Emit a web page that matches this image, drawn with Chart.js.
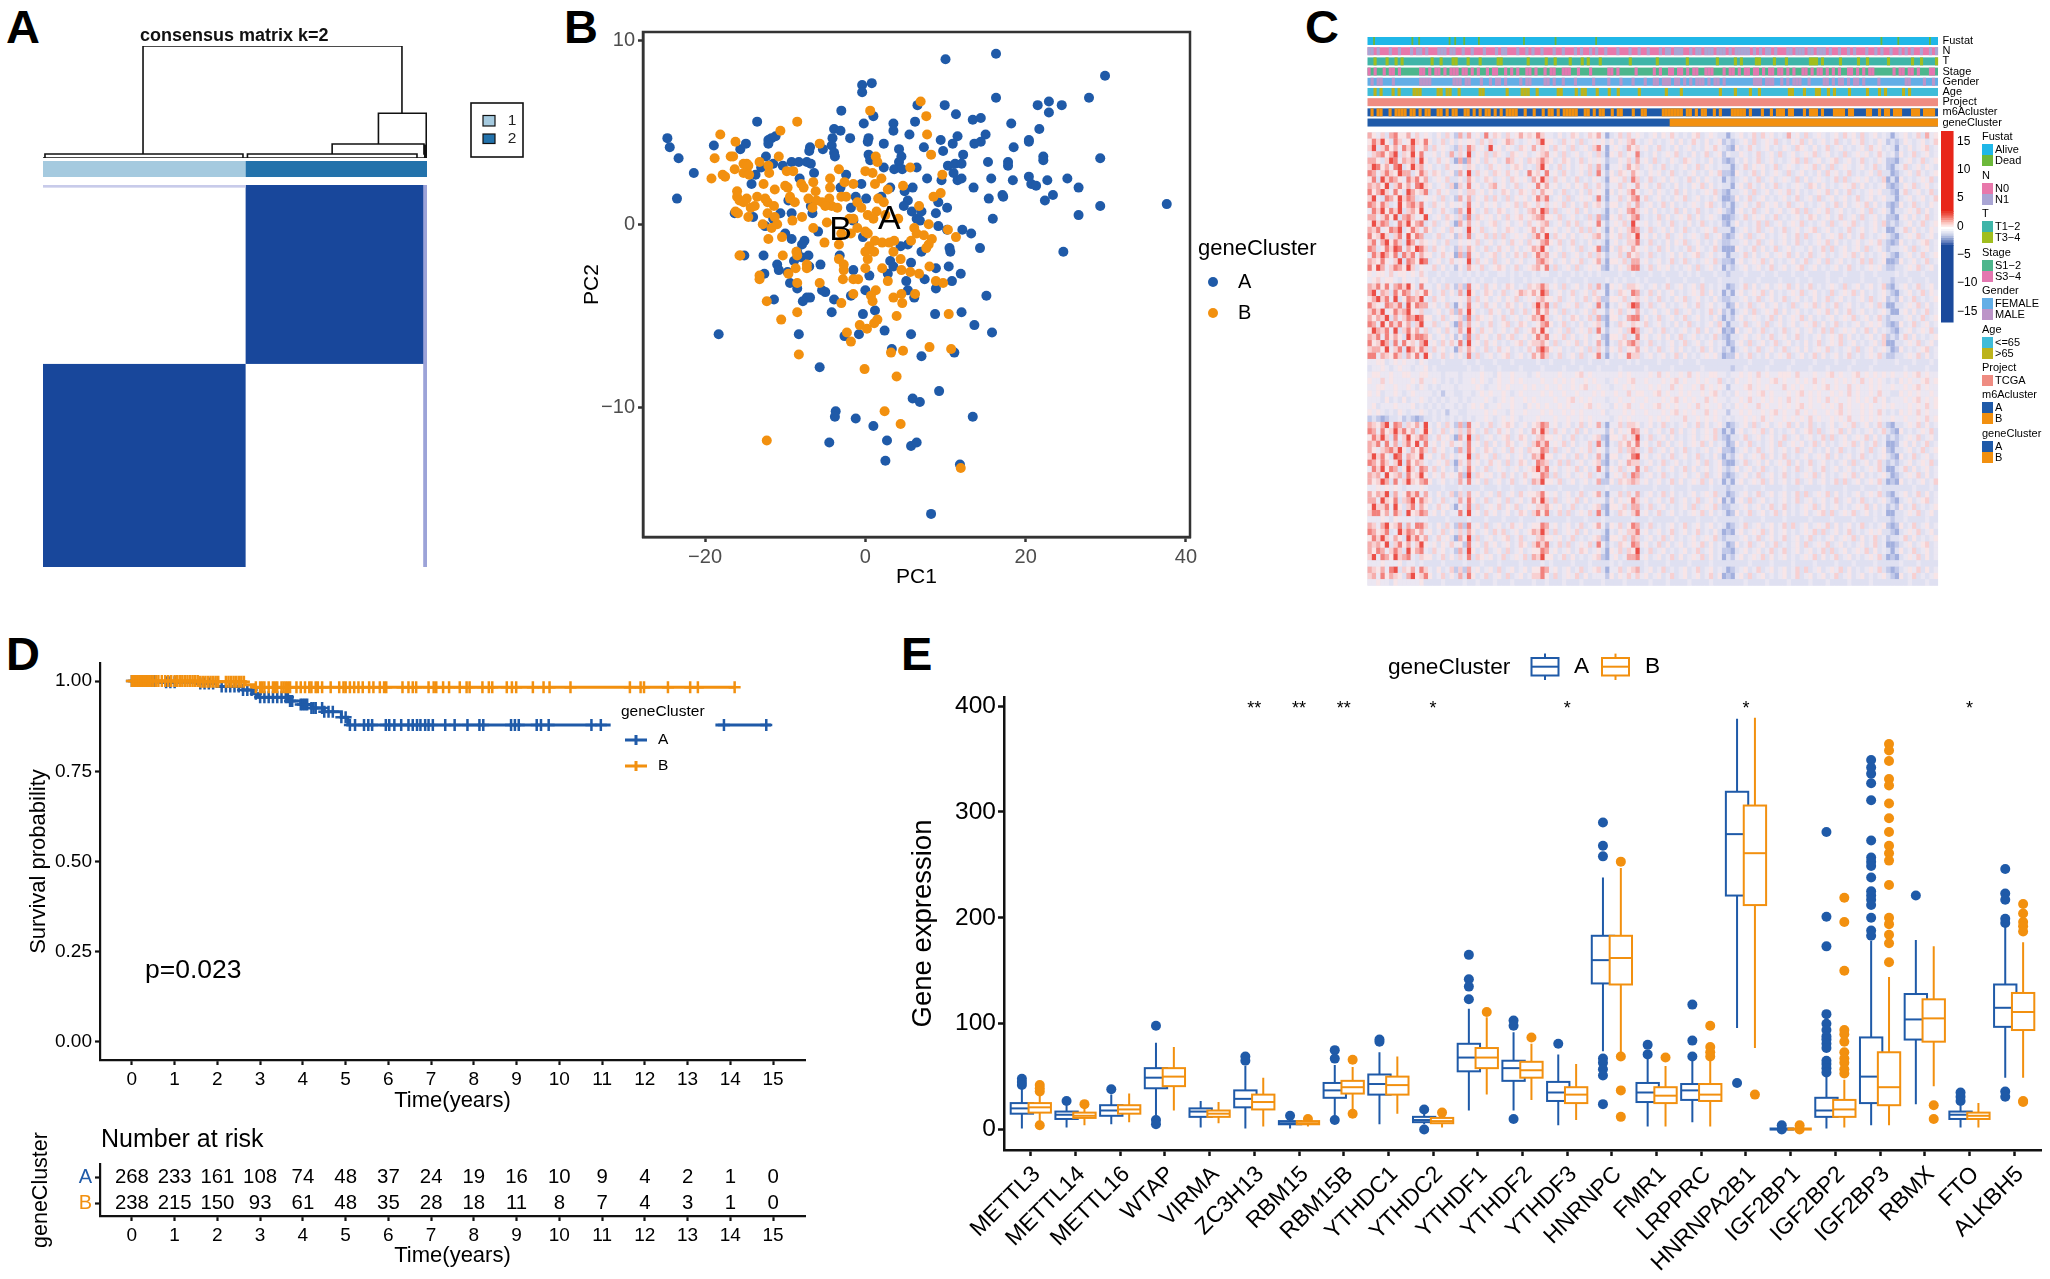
<!DOCTYPE html>
<html>
<head>
<meta charset="utf-8">
<title>geneCluster figure</title>
<script src="https://cdn.jsdelivr.net/npm/chart.js@4"></script>
<style>
  html, body { margin: 0; padding: 0; background: #fff; }
  body { position: relative; width: 2050px; height: 1279px; overflow: hidden; }
  canvas { position: absolute; }
  .tag { position: absolute; font: bold 47px "Liberation Sans", Arial, sans-serif; line-height: 47px; color: #000; }
</style>
</head>
<body>
<div class="tag" style="left:6px;top:3px">A</div>
<div class="tag" style="left:564px;top:3px">B</div>
<div class="tag" style="left:1305px;top:3px">C</div>
<div class="tag" style="left:6px;top:630px">D</div>
<div class="tag" style="left:901px;top:630px">E</div>
<script>
const BLUE = '#1f5aa8';
const ORANGE = '#f2900f';
const FONT = '"Liberation Sans", Arial, sans-serif';

// A: consensus matrix
const consensusSamples = 506;
const clusterSplitX = 267;
const clusterSplitY = 237;
const dendroLines = [
    [[131.8, 0.036], [131.8, 1], [473, 1], [473, 0.40]],
    [[442, 0.125], [442, 0.40], [505, 0.40], [505, 0.02]],
    [[381, 0.036], [381, 0.125], [502, 0.125], [502, 0.03]],
    [[2.6, 0], [2.6, 0.036], [263.5, 0.036], [263.5, 0]],
    [[269.4, 0], [269.4, 0.036], [492.8, 0.036], [492.8, 0]],
    [[0, 0], [506, 0]]
];

// B: PCA scores [PC1, PC2]
const scoresA = [[-24.7,4.7],[-24.4,4.2],[-23.3,3.6],[-21.4,2.8],[-23.5,1.4],[-18.3,-6],[-18.9,4.3],[-15.6,4.1],[-14.9,4.4],[-13.5,5.6],[-12.1,4.6],[-11.7,4.7],[-11.2,4.8],[-12.1,4.4],[-12.4,3.7],[-13,3.1],[-13.7,2.7],[-14.2,2.2],[-11.5,3.3],[-10.3,3.2],[-9.2,3.4],[-8.3,3.4],[-7.3,3.4],[-6.8,3.3],[-6.4,2.8],[-8.2,2.5],[-6.9,4.2],[-7,4],[-5.3,4.1],[-4.1,4.7],[-3.9,5.2],[-3.1,5.1],[-1.9,4.7],[-3,6.2],[-4.2,4.3],[-3.9,3.9],[-3.8,3.7],[-0.2,5.5],[-0.4,7.6],[0.8,7.7],[-0.4,7.2],[1,5.9],[3.5,5.5],[3.5,5.1],[0.4,4.7],[0.3,4.5],[2.3,4.4],[4.2,4.1],[0.4,3.8],[0.6,3.5],[4.5,3.7],[4.2,3.4],[2.3,3.1],[3.6,3],[4.6,3],[6.4,3.1],[5.5,4.9],[6.2,5.6],[6.5,6.5],[9.9,6.5],[10,9],[16.3,9.3],[16.3,6.9],[11.3,6],[13.4,5.7],[14.4,5.8],[15,4.9],[14.4,4.5],[13.6,4.4],[11.5,4.8],[10.9,4.4],[9.4,4.6],[9.7,4],[7.3,4.2],[7.7,2.5],[9.5,2.4],[10.3,3.2],[11.2,3.3],[12,3.3],[12.2,3.8],[11,2.8],[11.5,2.4],[12,2.5],[13.5,2],[15.3,3.4],[15.7,2.5],[15.4,1.4],[17.1,1.6],[17.2,1.5],[15.9,0.3],[18.5,4.2],[18.2,5.5],[17.8,3.4],[17.8,3.2],[18.4,2.4],[20.4,4.5],[20.4,4.6],[21.5,6.5],[22.9,6.7],[24.5,6.5],[22.9,6.1],[21.7,5.2],[22.2,3.7],[22.2,3.5],[20.4,2.6],[20.7,2.2],[21.3,2.1],[22.7,2.4],[22.4,1.3],[23.4,1.6],[25.2,2.5],[26.6,2],[26.6,0.5],[29.3,1],[29.3,3.6],[27.9,6.9],[29.9,8.1],[37.6,1.1],[24.7,-1.5],[-3.1,2],[-2.4,2.7],[-0.5,2.2],[-1.2,1.5],[0.1,1.4],[-1.8,0.9],[-6.8,1],[-6.6,0.6],[-9.2,0.6],[-10.6,0.6],[-9.6,1.3],[-14,0.4],[-12.5,-0.1],[-11.5,0.3],[-10,-0.5],[-9.2,-0.8],[-7.6,-0.9],[-7.9,-1.1],[-12.7,-1.7],[-15.1,-1.7],[-16.3,0.6],[-11,-2.2],[-10.8,-2.5],[-12.6,-2.7],[-9.7,-2.6],[-9.4,-3.2],[-8.5,-3.5],[-8.9,-2],[-8,-1.8],[-7.1,-1.7],[-8.5,-1.5],[-7,-2.3],[-5.6,-2.2],[-5.9,-0.4],[-1.5,0.2],[-0.3,-0.7],[3.1,2],[2,1.5],[4.9,1.8],[5.9,2],[5.3,1.3],[4.8,1],[5.8,0.7],[6.4,0.3],[6.8,0.2],[7,0.7],[8.8,0.6],[9.1,1.2],[10.2,0.9],[9.1,-0.1],[10.2,-0.3],[12.1,-0.3],[13.2,-0.5],[14.3,-1.3],[10.5,-1.3],[10.6,-1.5],[10.4,-2.3],[11.9,-2.7],[10.8,-3.1],[8.8,-2.4],[8.8,-3.5],[7.4,-3],[7,-1.5],[5.3,-1.1],[4.4,-1.2],[3.1,-2],[3.5,-2.3],[2.8,-2.7],[5.7,-2.1],[0.5,-2.8],[-1.5,-2.5],[-3.2,-1.7],[5.1,-3.1],[5.3,-3.6],[6.1,-4],[0,-3.6],[-1.8,-3.9],[-3.9,-4.1],[-5,-3.7],[-5.4,-3.6],[-6.9,-4],[-7.3,-4],[-7.8,-4.2],[-11.4,-4.1],[-4.2,-4.8],[-0.3,-4.9],[1.2,-4.7],[2.4,-5.8],[5.7,-6],[8.7,-4.9],[12,-4.8],[13.6,-5.5],[15.8,-5.9],[15.1,-3.9],[-0.8,-6],[-2.6,-6.1],[-8.3,-6],[-5.7,-7.8],[3.3,-6.8],[7,-7.2],[11.1,-7],[9.2,-9.1],[5.9,-9.5],[6.8,-9.7],[13.4,-10.5],[-1.2,-10.6],[-3.7,-10.2],[-3.8,-10.5],[1,-11],[-4.5,-11.9],[2.7,-11.8],[5.7,-12.1],[6.4,-11.9],[2.5,-12.9],[11.8,-13.1],[8.2,-15.8]];
const scoresB = [[-19.2,2.5],[-18.1,4.9],[-18.8,3.6],[-16.2,4.5],[-16.8,3.7],[-16.5,3.7],[-17.8,2.7],[-17.5,2.6],[-16.3,3],[-15.2,3.3],[-14.8,3.3],[-14.6,3.2],[-15.2,2.8],[-14.5,2.7],[-16,1.8],[-16,1.5],[-15.7,1.3],[-14.8,1.4],[-15.2,1.2],[-14.3,0.9],[-16.2,0.7],[-15.9,0.6],[-14.6,0.4],[-13.2,3.4],[-12.1,3.2],[-10.8,3.7],[-10.6,5.1],[-8.5,5.6],[-12.7,2.2],[-11.3,1.9],[-10,2.1],[-9.7,2],[-9,2.9],[-9.8,2.9],[-8,2.2],[-7.7,2],[-12.5,1.4],[-12.2,1.2],[-11.4,1],[-9.4,1.5],[-9.4,1.4],[-12.2,0.6],[-11.3,0.4],[-9.1,0.2],[-7.9,0.4],[-12.8,0],[-11.7,-0.2],[-11,0],[-10.4,-0.7],[-12.1,-0.8],[-15.6,-1.7],[-15.7,-1.7],[-10.3,-1.7],[-8.6,-1.5],[-8.5,-1.7],[-8.5,-3.2],[-8.7,-2.4],[-7.3,-2.2],[-7.3,-2.4],[-13.2,-2.8],[-13.2,-3],[-9.6,-2.7],[-12.3,-4.2],[-5.7,-3.2],[-10.5,-5.2],[-8.5,-4.8],[-8.3,-7.1],[-12.3,-11.8],[-5.7,4.4],[-3.3,3],[-4.4,2.5],[-4.4,2],[-6.5,2.3],[-6.2,1.8],[-7.1,1.4],[-6.1,1.3],[-5.4,1.2],[-4.2,1],[-4.5,1.4],[-3,1.5],[-2.4,1.5],[-1.5,2.2],[-2.6,2.3],[0,2.9],[0.9,2.8],[1.2,2.2],[2,2.5],[1.3,3.7],[1.5,3.4],[0.6,6.2],[6.9,6.7],[7.6,5.9],[7.7,4.9],[8.2,3.8],[5.6,3.1],[9.6,2.7],[9.4,1.7],[8.5,1.5],[4.7,2.1],[2.8,1.9],[1.6,1.4],[2.3,1.2],[1.4,0.7],[4.1,0.3],[0.3,0.5],[-0.5,0.9],[-1.5,0.3],[-4.8,0.1],[-6.5,-0.2],[-5.1,-1],[-3.3,-1.1],[-1.8,-0.5],[0,-0.4],[0.3,-0.5],[1.2,-0.9],[2.1,-1],[3,-1],[3.6,-0.9],[1.1,-1.5],[0,-1.5],[0.3,-1.9],[-3.3,-1.9],[-2.7,-2.2],[-2.7,-2.5],[-1.5,-3],[-0.9,-3],[-2.8,-3],[0,-2.4],[2.1,-2.4],[2.8,-3.1],[3.5,-1.5],[4.4,-1.9],[4.5,-2.5],[5.6,-2.6],[6.7,-2.7],[8,-2.3],[8.8,-3.1],[9.7,-3.2],[3.5,-4],[4.5,-3.8],[4.6,-4.3],[6.2,-3.8],[1.3,-3.6],[0.7,-3.9],[0.9,-4.2],[-3,-4.3],[-1.5,-3.8],[3.9,-5],[10.4,-4.9],[1.1,-5.4],[1.5,-5.2],[-0.7,-5.5],[0.2,-5.7],[-2.3,-5.9],[-1.8,-6.4],[8,-6.7],[10.7,-6.8],[3.2,-7],[4.7,-6.9],[-0.1,-7.9],[3.9,-8.3],[2.4,-10.2],[4.4,-10.9],[11.9,-13.3],[11.3,-0.7],[10.3,-0.3],[7.9,0],[6.1,-0.2],[6.4,-0.5],[7.3,-0.6],[8.3,-0.8],[7.9,-1.1],[7.6,-1.3],[5.7,-0.9],[6.7,1],[-5,1],[-3.5,0.9],[-2,0.3],[-1,-0.2],[1,0.3],[2.5,0.5],[-1,1.2],[-3,-0.5],[0.5,-1.2],[-13.5,1.5],[-13.8,1],[-12,2.8],[-8.8,1.2],[-6.6,0.9]];

// C: annotation tracks, 0/1 per stretch of samples, left to right
const trackNames = ['Fustat', 'N', 'T', 'Stage', 'Gender', 'Age', 'Project', 'm6Acluster', 'geneCluster'];
const heatSamples = 506;
const fustatDead = [5, 39, 45, 72, 77, 85, 98, 138, 166, 202, 455, 470, 498];
const geneClusterSizes = [268, 238];
const trackN = '1101000100100010110100011101100100100010001011000100101001000100100010100101001000100010010010' + '0010110111001011011101110101111101010110100011011101101110100100101000100101001001010100100101';
const trackT = '00100010010100000000010010001100010001000001100000000100000100100001000101000100000000010000000' + '01000000000100000000010000010100001100001000100000001110100000100000100100000010000000100100001';
const trackStage = '1010010110100000011010110101110110101001011001010100110100101100111001000100000110100000100000' + '1010011011010110011100010110101101101011011010100110101101010100110101011000000101101101000110';
const trackGender = '0101100010000000011110000000111011000100101101000010110000110100100010000010000100010001000100' + '1101110110101011101011010000000001110111001010111001000011010110101101000010000000011000010010';
const trackAge = '00101000101000011100000110110010000001100000001000011100100000011000010110001000100100000010000' + '00001000010000000000001000010000100100000000011000100011001010000100000100010100000101000000000';
const trackM6A = '01011001011110110101100110101100110101011010101111001001001011010111110011010110010110001001100' + '00011111110110101100101000111110100010010111011000101110100011110110000110010110111000111011110';
const projectTrack = '0';

// C: heat levels, 0 = bluest, 9 = reddest
const heatLevels = [
'75463785574645 435364 2737 45384653645756 5864 43534653465 7413 463645 4345354643435634543 313 45346364534374536345434536453634534 313 453463745',
'58695386459658 534635 3545 53646345764345 4695 54364536345 4535 354674 3453434535346435345 232 34536345463435463534534634354634354 232 354345346',
'69368574868457 364543 2638 64539453543654 7465 36453634536 8414 543756 4534634353453435464 321 53464345343543654353463453434536453 431 435345634',
'46785793659584 453537 3649 35463654365453 4567 45363453453 6315 463548 3435345463435346345 243 35434634536345345463453436345453464 342 534634534',
'77536984767395 346453 1717 45364534764536 5686 53465346354 5423 354637 4536343543654343534 212 43534634534345636345345634534634354 221 345346345',
'69857489359674 534364 4536 53436454356534 3695 34635345463 7314 453756 3453463434534635434 331 34635453463454345463536345434534634 213 463453543',
'87468659773586 465345 2749 36453654645348 5648 45364345363 8425 365475 4354534634345343546 221 54346353454363453435364534634345363 312 345364345',
'58396875486857 345463 3537 53465345365453 7596 36453463435 4315 546386 3463453543463535434 132 34534634534543635345434636345453436 131 534345463',
'76759368574896 534536 1648 45346745346345 4857 45345354634 6424 463547 4534634353435463534 331 45364353463434543653534345463534345 212 354634534',
'85796485397568 346453 3536 64535346534654 6475 53463435364 5415 354685 3453543463534345463 213 34536345345463534345463534634345453 321 463453463',
'69438759687345 453634 2747 35463643635453 5868 34536345453 8314 463578 4634534354634534353 112 53463453434534634536345345346345345 331 345345346',
'87586349578684 364535 4538 45354534546365 4646 45463534635 6425 534647 3453463534345435634 231 34534635453463453434534635345463534 212 534634354',
'48695869367594 534643 2749 53463465345346 7597 36345463534 4314 354786 4535343463534634345 321 45346345345345636345463453434536345 313 345463534',
'77468593786459 345365 3628 36545353645645 6785 54634534363 7215 463578 3434635345463534543 112 34635453463434534653453463453634534 221 453534634',
'59687348695783 463453 1747 45345634534536 4567 34536463454 8424 546395 4534534634353463434 213 53434636345345463434536345463434536 232 345346345',
'76845879358647 534536 4539 54634534654345 7475 45345346363 5315 354687 3463453534634345463 331 34534634534634534563453434634534534 113 463534354',
'85696368495873 346345 2638 35463636345453 6859 36453534546 7425 463659 4535346345345436345 212 45363453434534636345345463534634345 321 345463453',
'68479586397465 453463 3545 46345345364536 4578 54634634353 4314 534668 3463435354634534353 223 34534634534534634345463534345345463 212 534345634',
'87358698475986 364534 2637 53463464535345 7695 34534536345 8215 365475 4534635343463543463 111 54346353463453443534636345345363453 233 453634534',
'48697583868475 534645 1728 45345635346463 5867 45363453463 6424 463756 3463434535345634534 313 34635345345463534634534345463534345 321 345346345',
'76585469387598 345346 4549 36453634534534 4786 53453546345 7315 546377 4534534634634345463 221 45345463534345346345363453434636345 112 534534634',
'85974687596354 463534 2537 54634565346345 6758 36345363454 5214 354688 3463545343453634534 132 34534534634534563453434534634345453 223 345463453',
'54554645545464 334343 3434 34343344343433 4344 33433434343 4333 343343 3343343334343433343 323 33433343343334334333343334333433433 334 343334333',
'45645543544355 343433 3343 43433433343343 4433 34334333433 3343 434334 3433334333433343334 333 34333433334333433433343343333433343 323 334333433',
'76858478695384 435364 2628 45364534653436 5686 45363453463 7315 453665 4345346345345363434 312 34635345345463534634345436345345346 213 453463453',
'79476385874658 534635 3739 53465346345765 7597 34534634536 4414 365487 3463534534345463534 131 45345463534345463453436345463534345 321 345346354',
'57968493587694 364534 4547 36453453546345 4675 54634534635 6225 546356 4534634354634534353 223 34534634534634534353463453434536345 232 534634345',
'86548768395877 453463 1538 45364534653534 6968 36345463453 8314 354698 3463453434534634534 312 53463453453436345463534634534345363 113 345463534',
'68694586795463 345346 2749 53436453463463 5857 45363434536 4425 463547 4345345363453434635 231 34536345463534534345463534634534345 311 453534634',
'75769374687985 534635 4628 36545346345345 7696 34534653463 7215 534788 3534634534634534353 132 45345434635345463534345345463453463 233 345346345',
'87495868573694 463453 1737 45346345634653 4578 53463435345 6314 365465 4634534353463434536 313 34634536345345345463534634345345453 212 534634534',
'59768493685746 345364 3749 53645345346345 7595 34536345463 8424 453697 3453463434534635345 121 53453463434634534534636345453463534 321 345345463',
'76848575396887 534535 2528 36453463563453 5868 45463534534 5215 546348 4534535346345343463 213 34534534634534634345345463534345346 232 463534345',
'85697384856479 453646 4839 45364534345635 6675 36345463534 7314 365786 3463434534634534534 312 45363453463453435346345463453434536 113 345463453',
'67759468397586 364534 1647 53463464534346 4797 54534345363 6425 463557 4534634535343463534 231 34534634534634535345463434536345345 312 534345634',
'88476586375849 534635 3538 36345345634534 7586 34634536345 8314 354866 3453453463534345453 122 53463435345463453463534534634345463 223 345463534',
'44553454544354 333433 3343 34333433343333 3433 43333433343 3343 333434 3333433334333433333 333 33343333433334333343333433343333433 334 333433343',
'34454345443445 343333 3334 33433343333433 3343 33343334333 4333 343333 3433333433333343333 332 33433334333343333433343333433334333 333 343333433',
'45544544554455 444344 4344 44544354454443 4544 44544456454 4444 454544 4454645445464544554 434 45454645445554644454456454456454545 454 454564544',
'54464544445464 454343 4344 54543454454544 4454 45454544545 4434 544564 4544454564544545446 343 54454544564544545464544545454645454 343 545445645',
'44554454454354 343444 3444 45434454544454 5445 44544545644 5443 445454 4454544645445464545 424 44564545444645454454564544645445454 454 454564544',
'54534454345444 434244 3344 34545445434544 4454 54454454445 4544 544645 5445645445454454564 343 54454564544454564545445454645445464 433 545454454',
'44435343534454 343434 4343 44454345454454 5444 45445645454 4434 454454 4544454564545446454 434 45464454545464544545464544545454645 344 454564545',
'45344454445343 434344 3434 54534454454435 4545 44545444564 5443 545644 5445645454454645445 343 54544645445454564544545464544545445 454 445454645',
'54543435434454 343424 4334 44454544354454 4454 54454545444 4534 445454 4544454564545446454 424 45454454564544645454454564544545464 343 545464544',
'23212334232123 343434 3434 34454345454344 4544 45445445454 4443 454544 4454545444644545454 343 44545464544545454645445454644545454 454 454454645',
'76579487365749 435364 2728 45346345653453 5687 45345346354 7314 463665 3453463434534635345 312 34536345345463534634345345463453463 213 345463534',
'87485696857359 534635 3637 53463464534534 7596 36453463534 4425 354587 4534534635345345463 131 45345463534345345636345463534345346 321 534345463',
'58696384695687 346453 1749 36345345634653 4675 54534634345 6215 546469 3463453534345345463 213 34634534534634534534636345345463534 232 345463453',
'76848473685948 453546 4538 45363534653453 6868 45463534463 8314 365758 4534635345345463534 312 53463434536345453463534345463534634 112 453534634',
'75467869537586 364534 2738 53465345364536 5587 36345345463 5424 463676 3463453534634345345 221 34534634534534634534353463434536345 213 345346345',
'69685398476594 534635 3549 36453634534534 7695 53453463534 7315 534589 4534534634534634353 132 45345463534634345345463534534634345 321 534634534',
'87586469385764 345463 1647 45346453634653 4876 34636345345 6214 354766 3453463453434536345 211 34634535345463534634534345363453463 232 345345463',
'48695873596487 463534 2538 53463454345345 6968 45345463534 8425 463548 4634534534635345345 323 53453463434534634534634534534345463 113 463534534',
'76749567385695 354645 4729 36545346353464 5587 36345345463 4314 546387 3453463434534536345 212 34534634534634345463534345463534345 312 345463534',
'75697384696578 534534 3748 45363453463453 7695 54634534534 7225 365676 4534534635345463534 131 45345463534534634534534636345345463 121 534345346',
'44545454344454 333433 3433 33433343343334 3343 33433334333 3343 334333 3334333433343333433 323 33433343333433343333433334333433343 333 333433343',
'75769374586847 435346 2637 45345363453645 5685 45345346345 7314 463647 3453463534345345463 312 34534634534534636345463534345345463 213 453463534',
'77496583679586 534634 3748 53463453634534 7596 36345463534 4425 354586 4534534634534634535 131 45363453434534634534534634534634345 321 345345634',
'59668495368475 346453 1538 36345463546345 4667 54534634345 6215 546377 3463453434536345463 223 34534534634634345463534534345463534 232 534634345',
'68857486395687 453534 4849 45364534534653 6858 34636345463 8314 365468 4534634534345463534 312 53463453463534345345636345463453434 113 345463453',
'44454354444344 333343 3334 33343334333433 3433 33334333433 3433 333343 3343333343333433343 333 34333343333433333433334333343333433 323 343333433',
'76479568374886 435364 2728 45363453464534 5587 45345346345 7425 463587 3463434534634534534 312 34634534534636345345463534534634345 212 534634534',
'87568349687574 534635 3637 53453646345345 7696 36345463534 4314 354668 4534534634534634353 121 45345463534534345463634534634345453 321 345463453',
'58696475396857 346453 1749 36345345634634 4675 54534634345 6215 546376 3453463534345345463 233 34534634534634534634345345463534634 233 463534345',
'76759368574695 453546 4528 45364534534653 6868 34636345463 8424 365487 4534635345345463534 312 53463453463434536345463453434534634 112 345345634',
'75874686395784 364534 2739 53463453634534 5587 45345346534 5315 463659 3463453434534634534 221 34534534634634534534636345345463534 313 534634534',
'69487596784365 534635 3648 36545346345463 7695 53463534345 6214 534778 4534534635345463534 132 45345463534534345463534634534345463 121 345463534',
'44454445344343 333433 3343 33433343333433 3343 43333433343 3334 343333 3433334333343333433 333 33343333433334333343333433343333433 333 433343333',
'76574893657486 435346 2627 45345363453453 5587 45345346345 6314 463567 3453463434534634534 312 34534634534534636345345463534345463 212 345463534',
'67485765379568 534635 3738 53463453634534 6685 36345463534 4425 354646 4534534634534534635 121 45363453434534634534534634534534345 321 534634345',
'44544354444453 333433 3343 34333433343333 4334 33343334333 3433 334333 3343334333343333433 333 33433334333343333433343333433334333 333 334333433'
];
const colourBarTicks = [-15, -10, -5, 0, 5, 10, 15];
const colourBarEdges = [-17, -3.4, -3, -2.6, -2.2, -1.8, -1.4, -1, -0.6, -0.2, 0.2, 0.6, 1, 1.4, 1.8, 2.2, 2.6, 16.8];
const colourBarFills = ['#1b4a9c', '#3e62ad', '#6a84c0', '#8ea1d0', '#aebade', '#cdd4ea', '#e2e5f2', '#f5f5fa', '#ffffff', '#fde4e2', '#fbcbc6', '#f8aea6', '#f58f85', '#f06f62', '#ec5144', '#e93b2c', '#e8261a'];

// D: survival curves [time, probability]
const survivalA = [[0, 1], [0.6, 0.997], [1.5, 0.993], [2, 0.985], [2.6, 0.975], [2.85, 0.965], [2.95, 0.955], [3.7, 0.945], [3.95, 0.935], [4.2, 0.925], [4.5, 0.915], [4.9, 0.9], [5.05, 0.878], [11.2, 0.878]];
const survivalA2 = [[13.65, 0.878], [14.95, 0.878]];
const survivalB = [[0, 1], [1.6, 0.998], [2.65, 0.99], [2.85, 0.983], [14.1, 0.983]];
const censoredA = [0,0.05,0.1,0.15,0.2,0.25,0.3,0.35,0.4,0.45,0.5,0.55,0.8,0.9,1,1.6,1.7,1.8,1.9,2.1,2.2,2.3,2.4,2.5,2.6,2.7,2.8,2.9,3,3.1,3.2,3.3,3.4,3.5,3.6,3.65,3.7,3.75,3.95,4,4.05,4.1,4.2,4.25,4.3,4.45,4.5,4.6,4.7,4.9,5,5.1,5.22,5.43,5.53,5.62,5.94,6.02,6.14,6.3,6.47,6.57,6.67,6.75,6.86,6.94,7.04,7.33,7.55,7.85,8.13,8.22,8.87,8.96,9.05,9.47,9.57,9.75,10.75,10.97,13.85,14.84];
const censoredB = [0,0.04,0.08,0.12,0.16,0.2,0.24,0.28,0.32,0.36,0.4,0.44,0.5,0.56,0.62,0.7,0.78,0.85,0.92,1,1.06,1.12,1.18,1.24,1.3,1.36,1.42,1.48,1.54,1.6,1.66,1.72,1.78,1.84,1.9,1.96,2.02,2.2,2.26,2.32,2.38,2.44,2.5,2.56,2.62,2.9,3,3.05,3.1,3.2,3.3,3.35,3.4,3.5,3.55,3.6,3.65,3.7,3.85,3.95,4.05,4.15,4.2,4.3,4.35,4.45,4.65,4.85,4.95,5,5.1,5.2,5.3,5.4,5.55,5.65,5.8,5.9,5.95,6.33,6.47,6.57,6.65,6.94,7.06,7.12,7.28,7.42,7.67,7.83,7.9,8.2,8.35,8.43,8.77,8.89,8.99,9.38,9.63,9.77,10.26,11.65,11.9,11.98,12.54,13.06,13.24,14.1];
const riskYears = [0, 1, 2, 3, 4, 5, 6, 7, 8, 9, 10, 11, 12, 13, 14, 15];
const riskA = [268, 233, 161, 108, 74, 48, 37, 24, 19, 16, 10, 9, 4, 2, 1, 0];
const riskB = [238, 215, 150, 93, 61, 48, 35, 28, 18, 11, 8, 7, 4, 3, 1, 0];

// E: [lower whisker, q1, median, q3, upper whisker] per gene
const genes = ['METTL3', 'METTL14', 'METTL16', 'WTAP', 'VIRMA', 'ZC3H13', 'RBM15', 'RBM15B', 'YTHDC1', 'YTHDC2', 'YTHDF1', 'YTHDF2', 'YTHDF3', 'HNRNPC', 'FMR1', 'LRPPRC', 'HNRNPA2B1', 'IGF2BP1', 'IGF2BP2', 'IGF2BP3', 'RBMX', 'FTO', 'ALKBH5'];
const boxesA = [[1,15,20,25,39],[2,10,14,17,23],[5,13,18,23,33],[13,39,49,58,82],[2,12,17,20,27],[1,21,29,37,60],[1,5,6,8,11],[13,30,37,44,61],[5,33,43,52,73],[5,7,9,12,15],[18,55,68,81,114],[18,46,58,65,92],[4,27,35,45,71],[74,138,160,183,238],[3,26,35,44,67],[7,28,37,43,65],[96,221,279,319,388],[0,0,0.5,1,1],[1,12,18,30,51],[4,25,50,87,178],[24,85,104,128,179],[2,10,14,17,23],[49,97,115,137,192]];
const boxesB = [[7,16,21,25,33],[4,11,13,16,20],[7,15,19,23,34],[18,41,50,58,78],[6,12,15,18,26],[3,19,26,33,49],[3,5,6,8,9],[19,34,40,46,59],[15,33,42,50,69],[2,6,8,11,13],[33,58,68,77,106],[28,49,56,64,81],[9,25,33,40,62],[73,137,162,183,247],[3,25,32,40,60],[3,27,33,43,67],[77,212,261,306,389],[0,0,0.5,1,1],[2,12,19,28,47],[4,23,40,73,144],[41,83,105,123,173],[2,10,13,16,25],[49,94,111,129,177]];
const outliersA = [[48,45,42],[27],[38],[98,9,5],[],[69,65],[13],[75,67,9],[85,83],[19,0],[165,142,135,123],[103,98,10],[81],[290,268,258,67,63,57,51,24],[80,71],[118,84,69],[44],[4,0],[281,201,173,109,100,94,88,85,81,77,65,62,58,54],[349,342,336,327,311,273,257,253,249,238,225,221,217,212,200,188,183],[221],[35,31,27],[246,223,217,199,195,36,31]];
const outliersB = [[42,39,36,4],[24],[],[],[],[],[10],[66,15],[],[16],[111],[87],[],[253,69,37,12],[68],[98,78,73,69],[33],[4,0],[219,196,150,94,90,83,73,67,63,57,53],[364,358,348,331,325,308,294,281,268,261,254,231,200,194,184,176,158],[23,10],[],[213,204,196,192,187,27,26]];
const signif = ['', '', '', '', '', '**', '**', '**', '', '*', '', '', '*', '', '', '', '*', '', '', '', '', '*', ''];

const heatFills = ['#8497d2', '#a3b0de', '#c2c9e9', '#dfe0f1', '#ebe7f2', '#f8e5e7', '#f8d0d1', '#f6adab', '#f2817c', '#ec4f47'];

Chart.defaults.font.family = FONT;
Chart.defaults.color = '#000';
Chart.defaults.animation = false;
Chart.defaults.responsive = false;
Chart.defaults.devicePixelRatio = 1;
Chart.defaults.plugins.legend.display = false;
Chart.defaults.plugins.tooltip.enabled = false;

function mount(left, top, width, height, config) {
    const canvas = document.createElement('canvas');
    canvas.width = width;
    canvas.height = height;
    canvas.style.left = left + 'px';
    canvas.style.top = top + 'px';
    canvas.style.width = width + 'px';
    canvas.style.height = height + 'px';
    document.body.appendChild(canvas);
    canvas.dataset.left = left;
    canvas.dataset.top = top;
    return new Chart(canvas, config);
}

// text at page coordinates
function put(chart, text, x, y, opts = {}) {
    const ctx = chart.ctx;
    ctx.save();
    ctx.translate(x - +chart.canvas.dataset.left, y - +chart.canvas.dataset.top);
    if (opts.rotate) ctx.rotate(opts.rotate);
    ctx.font = (opts.weight || 'normal') + ' ' + (opts.size || 14) + 'px ' + FONT;
    ctx.fillStyle = opts.color || '#000';
    ctx.textAlign = opts.align || 'left';
    ctx.textBaseline = 'middle';
    ctx.fillText(text, 0, 0);
    ctx.restore();
}

function rectAt(chart, x, y, w, h, fill, stroke, lw) {
    const ctx = chart.ctx;
    const px = x - +chart.canvas.dataset.left;
    const py = y - +chart.canvas.dataset.top;
    if (fill) { ctx.fillStyle = fill; ctx.fillRect(px, py, w, h); }
    if (stroke) { ctx.strokeStyle = stroke; ctx.lineWidth = lw || 1; ctx.strokeRect(px, py, w, h); }
}

// canvas box around an axis chart so the plot area lands on `area`
function axisBox(area, yTitleX, yTitleSize, xTitleY, xTitleSize, topPad, rightPad) {
    const left = Math.round(yTitleX - 0.6 * yTitleSize);
    const bottom = Math.round(xTitleY + 0.6 * xTitleSize);
    const top = area[1] - topPad;
    return {
        left, top,
        width: area[2] + rightPad - left,
        height: bottom - top,
        padding: { top: topPad, right: rightPad, left: 0, bottom: 0 },
        yWidth: area[0] - left,
        xHeight: bottom - area[3]
    };
}

function fixedTicks(values) {
    return scale => { scale.ticks = values.map(value => ({ value })); };
}

function axisStyle(colour, width, tick) {
    return {
        border: { display: true, color: colour, width },
        grid: { drawOnChartArea: false, drawTicks: true, tickLength: tick, tickColor: colour, tickWidth: width }
    };
}

// ---- A ----
mount(30, 25, 510, 140, {
    type: 'scatter',
    data: {
        datasets: dendroLines.map(line => ({
            data: line.map(p => ({ x: p[0], y: p[1] })),
            showLine: true, pointRadius: 0, borderColor: '#111', borderWidth: 1.6
        }))
    },
    options: {
        layout: { padding: { left: 13, right: 113, top: 21, bottom: 7 } },
        scales: {
            x: { type: 'linear', display: false, min: 0, max: consensusSamples },
            y: { type: 'linear', display: false, min: 0, max: 1 }
        }
    },
    plugins: [{
        id: 'panelAHead',
        afterDraw(chart) {
            put(chart, 'consensus matrix k=2', 140, 36, { size: 18, weight: 'bold', color: '#111' });
            rectAt(chart, 471, 103, 52, 54, '#fff', '#111', 1.6);
            rectAt(chart, 483, 115.5, 12, 10.5, '#a5cadf', '#111', 1.2);
            rectAt(chart, 483, 134, 12, 9.5, '#2272ab', '#111', 1.2);
            put(chart, '1', 512, 121, { size: 15.5, align: 'center', color: '#222' });
            put(chart, '2', 512, 139, { size: 15.5, align: 'center', color: '#222' });
            const sx = chart.scales.x, sy = chart.scales.y;
            chart.ctx.fillStyle = '#111';
            chart.ctx.fillRect(sx.getPixelForValue(502), sy.getPixelForValue(0.12), 3, sy.getPixelForValue(0) - sy.getPixelForValue(0.12));
        }
    }]
});

mount(30, 155, 420, 420, {
    type: 'scatter',
    data: { datasets: [{ data: [] }] },
    options: {
        layout: { padding: { left: 13, right: 420 - 397, top: 6, bottom: 8 } },
        scales: {
            x: { type: 'linear', display: false, min: 0, max: consensusSamples },
            y: { type: 'linear', display: false, reverse: true, min: -31.8, max: consensusSamples }
        }
    },
    plugins: [{
        id: 'consensusCells',
        afterDraw(chart) {
            const ctx = chart.ctx, sx = chart.scales.x, sy = chart.scales.y;
            const cell = (x0, x1, y0, y1, fill) => {
                ctx.fillStyle = fill;
                ctx.fillRect(sx.getPixelForValue(x0), sy.getPixelForValue(y0), sx.getPixelForValue(x1) - sx.getPixelForValue(x0), sy.getPixelForValue(y1) - sy.getPixelForValue(y0));
            };
            cell(0, clusterSplitX, -31.8, -10.6, '#a5cadf');
            cell(clusterSplitX, consensusSamples, -31.8, -10.6, '#2272ab');
            cell(clusterSplitX, consensusSamples, 0, clusterSplitY, '#18479b');
            cell(0, clusterSplitX, clusterSplitY, consensusSamples, '#18479b');
            cell(0, clusterSplitX, 0, 3.5, '#c8cbea');
            cell(consensusSamples - 5, consensusSamples, 0, consensusSamples, '#9ca3d8');
        }
    }]
});

// ---- B ----
const areaB = [643, 32, 1190, 537];
const boxB = axisBox(areaB, 592.5, 21, 577, 21, 22, 135);
const styleB = axisStyle('#333', 2.5, 5);
mount(boxB.left, boxB.top, boxB.width, boxB.height, {
    type: 'scatter',
    data: {
        datasets: [
            { label: 'A', data: scoresA.map(p => ({ x: p[0], y: p[1] })), backgroundColor: BLUE, pointRadius: 5, pointBorderWidth: 0, order: 2 },
            { label: 'B', data: scoresB.map(p => ({ x: p[0], y: p[1] })), backgroundColor: ORANGE, pointRadius: 5, pointBorderWidth: 0, order: 1 }
        ]
    },
    options: {
        layout: { padding: boxB.padding },
        scales: {
            x: {
                type: 'linear', min: -27.74, max: 40.5,
                afterBuildTicks: fixedTicks([-20, 0, 20, 40]),
                afterFit: s => { s.height = boxB.xHeight; },
                ticks: { color: '#4d4d4d', font: { size: 20 }, padding: 3, maxRotation: 0, callback: v => String(v).replace('-', '\u2212') },
                title: { display: true, text: 'PC1', font: { size: 21 }, padding: 0, color: '#000' },
                ...styleB
            },
            y: {
                type: 'linear', min: -17.06, max: 10.49,
                afterBuildTicks: fixedTicks([-10, 0, 10]),
                afterFit: s => { s.width = boxB.yWidth; },
                ticks: { color: '#4d4d4d', font: { size: 20 }, padding: 3, callback: v => String(v).replace('-', '\u2212') },
                title: { display: true, text: 'PC2', font: { size: 21 }, padding: 0, color: '#000' },
                ...styleB
            }
        }
    },
    plugins: [{
        id: 'panelBExtras',
        afterDraw(chart) {
            const a = chart.chartArea, ctx = chart.ctx;
            ctx.strokeStyle = '#333';
            ctx.lineWidth = 2.5;
            ctx.strokeRect(a.left, a.top, a.right - a.left, a.bottom - a.top);
            const sx = chart.scales.x, sy = chart.scales.y;
            const ox = +chart.canvas.dataset.left, oy = +chart.canvas.dataset.top;
            put(chart, 'A', sx.getPixelForValue(3) + ox, sy.getPixelForValue(0.25) + oy, { size: 34, align: 'center' });
            put(chart, 'B', sx.getPixelForValue(-3.1) + ox, sy.getPixelForValue(-0.35) + oy, { size: 34, align: 'center' });
            put(chart, 'geneCluster', 1198, 249, { size: 22 });
            [[282, BLUE, 'A'], [313, ORANGE, 'B']].forEach(row => {
                ctx.fillStyle = row[1];
                ctx.beginPath();
                ctx.arc(1213 - ox, row[0] - oy, 5, 0, Math.PI * 2);
                ctx.fill();
                put(chart, row[2], 1238, row[0], { size: 20 });
            });
        }
    }]
});

// ---- C ----
const trackColours = [
    ['#1fb7e8', '#6cb83a'], ['#e878ab', '#a9a5d4'], ['#3fb5a8', '#a0be1e'], ['#4db68c', '#e377b0'],
    ['#63aee6', '#bc95c8'], ['#3fbcd8', '#bcb31a'], ['#ef8c82', '#ef8c82'], [BLUE, ORANGE], [BLUE, ORANGE]
];
const legendC = [
    ['Fustat', 137, ['Alive', 'Dead'], 0], ['N', 176, ['N0', 'N1'], 1], ['T', 214, ['T1\u22122', 'T3\u22124'], 2],
    ['Stage', 253, ['S1\u22122', 'S3\u22124'], 3], ['Gender', 291, ['FEMALE', 'MALE'], 4], ['Age', 330, ['<=65', '>65'], 5],
    ['Project', 368, ['TCGA'], 6], ['m6Acluster', 395, ['A', 'B'], 7], ['geneCluster', 434, ['A', 'B'], 8]
];
const heatRowsAbove = 15.16;
mount(1340, 25, 710, 575, {
    type: 'scatter',
    data: { datasets: [{ data: [] }] },
    options: {
        layout: { padding: { left: 27.5, right: 112, top: 12, bottom: 14.5 } },
        scales: {
            x: { type: 'linear', display: false, min: 0, max: heatSamples },
            y: { type: 'linear', display: false, reverse: true, min: -heatRowsAbove, max: heatLevels.length }
        }
    },
    plugins: [{
        id: 'heatCells',
        afterDraw(chart) {
            const ctx = chart.ctx, sx = chart.scales.x, sy = chart.scales.y;
            const cell = (x0, x1, y0, y1, fill) => {
                const l = sx.getPixelForValue(x0), t = sy.getPixelForValue(y0);
                ctx.fillStyle = fill;
                ctx.fillRect(l, t, sx.getPixelForValue(x1) - l, sy.getPixelForValue(y1) - t);
            };
            cell(0, heatSamples, 0, heatLevels.length, heatFills[3]);
            heatLevels.forEach((row, r) => {
                const levels = row.replace(/ /g, '');
                const w = heatSamples / levels.length;
                [...levels].forEach((d, c) => cell(c * w, (c + 1) * w + 0.1, r, r + 1.02, heatFills[+d]));
            });
            const tracks = [null, trackN, trackT, trackStage, trackGender, trackAge, projectTrack, trackM6A, null];
            trackNames.forEach((name, i) => {
                const y0 = -heatRowsAbove + i * 1.62, y1 = y0 + 1.27;
                const colours = trackColours[i];
                cell(0, heatSamples, y0, y1, colours[0]);
                if (name === 'Fustat') fustatDead.forEach(s => cell(s, s + 1.6, y0, y1, colours[1]));
                if (name === 'geneCluster') cell(geneClusterSizes[0], heatSamples, y0, y1, colours[1]);
                if (tracks[i]) {
                    const w = heatSamples / tracks[i].length;
                    [...tracks[i]].forEach((d, c) => { if (d === '1') cell(c * w, (c + 1) * w + 0.1, y0, y1, colours[1]); });
                }
                put(chart, name, 1942.5, sy.getPixelForValue((y0 + y1) / 2) + 25, { size: 11 });
            });
            legendC.forEach(group => {
                put(chart, group[0], 1982, group[1], { size: 11 });
                group[2].forEach((item, k) => {
                    const top = group[1] + 7 + k * 11;
                    rectAt(chart, 1982, top, 11, 11, trackColours[group[3]][k]);
                    put(chart, item, 1995, top + 5.5, { size: 11 });
                });
            });
        }
    }]
});

// colour key next to the heatmap
mount(1941, 105, 60, 238, {
    type: 'bar',
    data: {
        labels: ['key'],
        datasets: colourBarFills.map((fill, i) => ({
            data: [[colourBarEdges[i], colourBarEdges[i + 1] + 0.05]],
            backgroundColor: fill, borderWidth: 0, barPercentage: 1, categoryPercentage: 1
        }))
    },
    options: {
        datasets: { bar: { grouped: false } },
        layout: { padding: { top: 26, bottom: 20.4 } },
        scales: {
            x: { display: false },
            y: {
                type: 'linear', position: 'right', min: -17, max: 16.8,
                afterBuildTicks: fixedTicks(colourBarTicks),
                afterFit: s => { s.width = 47.4; },
                border: { display: false },
                grid: { display: false, drawTicks: false },
                ticks: { font: { size: 12 }, padding: 3.5, callback: v => String(v).replace('-', '\u2212') }
            }
        }
    }
});

// ---- D ----
const areaD = [100, 663, 805, 1060];
const boxD = axisBox(areaD, 39.5, 22, 1100.5, 22, 22, 40);
const styleD = axisStyle('#111', 2.2, 5);
const yearTicks = riskYears;
function survivalAt(curve, t) {
    let s = curve[0][1];
    curve.forEach(p => { if (p[0] <= t) s = p[1]; });
    return s;
}
const curveDataset = (points, colour, order) => ({
    data: points.map(p => ({ x: p[0], y: p[1] })), showLine: true, stepped: true, pointRadius: 0, borderColor: colour, borderWidth: 3, order
});
const censorDataset = (times, curve, colour, order) => ({
    data: times.map(t => ({ x: t, y: survivalAt(curve, t) })), pointStyle: 'cross', pointRadius: 6, pointBorderColor: colour, pointBorderWidth: 2.5, showLine: false, order
});
mount(boxD.left, boxD.top, boxD.width, boxD.height, {
    type: 'scatter',
    data: {
        datasets: [
            curveDataset(survivalA, BLUE, 4),
            curveDataset(survivalA2, BLUE, 4),
            censorDataset(censoredA, survivalA.concat(survivalA2), BLUE, 3),
            curveDataset(survivalB, ORANGE, 2),
            censorDataset(censoredB, survivalB, ORANGE, 1)
        ]
    },
    options: {
        layout: { padding: boxD.padding },
        clip: false,
        scales: {
            x: {
                type: 'linear', min: -0.746, max: 15.746,
                afterBuildTicks: fixedTicks(yearTicks),
                afterFit: s => { s.height = boxD.xHeight; },
                ticks: { font: { size: 19 }, padding: 3, maxRotation: 0, autoSkip: false },
                title: { display: true, text: 'Time(years)', font: { size: 22 }, padding: 0 },
                ...styleD
            },
            y: {
                type: 'linear', min: -0.05, max: 1.05,
                afterBuildTicks: fixedTicks([0, 0.25, 0.5, 0.75, 1]),
                afterFit: s => { s.width = boxD.yWidth; },
                ticks: { font: { size: 19 }, padding: 3, callback: v => v.toFixed(2) },
                title: { display: true, text: 'Survival probability', font: { size: 22 }, padding: 0 },
                ...styleD
            }
        }
    },
    plugins: [{
        id: 'panelDExtras',
        afterDraw(chart) {
            const ctx = chart.ctx;
            const ox = +chart.canvas.dataset.left, oy = +chart.canvas.dataset.top;
            put(chart, 'p=0.023', 145, 971, { size: 26.5 });
            put(chart, 'geneCluster', 621, 712, { size: 15.5 });
            [[740, BLUE, 'A'], [766, ORANGE, 'B']].forEach(row => {
                ctx.strokeStyle = row[1];
                ctx.lineWidth = 3;
                ctx.beginPath();
                ctx.moveTo(625 - ox, row[0] - oy);
                ctx.lineTo(647 - ox, row[0] - oy);
                ctx.moveTo(636 - ox, row[0] - oy - 5);
                ctx.lineTo(636 - ox, row[0] - oy + 5);
                ctx.stroke();
                put(chart, row[2], 658, row[0], { size: 15.5 });
            });
        }
    }]
});

// risk table
const areaRisk = [100, 1164, 805, 1216];
const boxRisk = axisBox(areaRisk, 41, 21.5, 1256, 22, 40, 40);
mount(boxRisk.left, boxRisk.top, boxRisk.width, boxRisk.height, {
    type: 'scatter',
    data: {
        datasets: [
            { data: riskYears.map((t, i) => ({ x: t, y: 'A', n: riskA[i] })), pointRadius: 0 },
            { data: riskYears.map((t, i) => ({ x: t, y: 'B', n: riskB[i] })), pointRadius: 0 }
        ]
    },
    options: {
        layout: { padding: boxRisk.padding },
        scales: {
            x: {
                type: 'linear', min: -0.746, max: 15.746,
                afterBuildTicks: fixedTicks(yearTicks),
                afterFit: s => { s.height = boxRisk.xHeight; },
                ticks: { font: { size: 19 }, padding: 3, maxRotation: 0, autoSkip: false },
                title: { display: true, text: 'Time(years)', font: { size: 22 }, padding: 0 },
                ...styleD
            },
            y: {
                type: 'category', labels: ['A', 'B'], offset: true,
                afterFit: s => { s.width = boxRisk.yWidth; },
                ticks: { font: { size: 20 }, padding: 3, autoSkip: false, color: c => (c.index === 0 ? BLUE : ORANGE) },
                title: { display: true, text: 'geneCluster', font: { size: 21.5 }, padding: 0 },
                ...styleD
            }
        }
    },
    plugins: [{
        id: 'riskNumbers',
        afterDraw(chart) {
            const ox = +chart.canvas.dataset.left, oy = +chart.canvas.dataset.top;
            chart.data.datasets.forEach((ds, d) => {
                chart.getDatasetMeta(d).data.forEach((pt, i) => {
                    put(chart, String(ds.data[i].n), pt.x + ox, pt.y + oy, { size: 20.4, align: 'center' });
                });
            });
            put(chart, 'Number at risk', 101, 1140, { size: 25 });
        }
    }]
});

// ---- E ----
const areaE = [1004, 697, 2041, 1150];
const boxE = axisBox(areaE, 923, 27.5, 1272, 2, 60, 8);
const styleE = axisStyle('#111', 2.5, 6);
const flatten = (lists, offset) => lists.flatMap((vals, i) => vals.map(v => ({ x: i + offset, y: v })));
mount(boxE.left, boxE.top, boxE.width, boxE.height, {
    type: 'scatter',
    data: {
        datasets: [
            { label: 'A', data: flatten(outliersA, -0.2), backgroundColor: BLUE, pointRadius: 5, pointBorderWidth: 0, order: 2 },
            { label: 'B', data: flatten(outliersB, 0.2), backgroundColor: ORANGE, pointRadius: 5, pointBorderWidth: 0, order: 1 }
        ]
    },
    options: {
        layout: { padding: boxE.padding },
        scales: {
            x: {
                type: 'linear', min: -0.6, max: 22.6,
                afterBuildTicks: fixedTicks(genes.map((g, i) => i)),
                afterFit: s => { s.height = boxE.xHeight; },
                ticks: { font: { size: 23 }, padding: 5, labelOffset: 6, minRotation: 45, maxRotation: 45, autoSkip: false, callback: v => genes[v] },
                ...styleE
            },
            y: {
                type: 'linear', min: -19.3, max: 408.5,
                afterBuildTicks: fixedTicks([0, 100, 200, 300, 400]),
                afterFit: s => { s.width = boxE.yWidth; },
                ticks: { font: { size: 24.5 }, padding: 2 },
                title: { display: true, text: 'Gene expression', font: { size: 27.5 }, padding: 0 },
                ...styleE
            }
        }
    },
    plugins: [{
        id: 'geneBoxes',
        afterDatasetsDraw(chart) {
            const ctx = chart.ctx, sx = chart.scales.x, sy = chart.scales.y;
            const drawBox = (stats, centre, colour) => {
                const l = sx.getPixelForValue(centre - 0.25), r = sx.getPixelForValue(centre + 0.25), m = sx.getPixelForValue(centre);
                const py = stats.map(v => sy.getPixelForValue(v));
                ctx.strokeStyle = colour;
                ctx.lineWidth = 2;
                ctx.beginPath();
                ctx.moveTo(m, py[0]); ctx.lineTo(m, py[1]);
                ctx.moveTo(m, py[3]); ctx.lineTo(m, py[4]);
                ctx.stroke();
                ctx.fillStyle = '#fff';
                ctx.fillRect(l, py[3], r - l, py[1] - py[3]);
                ctx.strokeRect(l, py[3], r - l, py[1] - py[3]);
                ctx.beginPath();
                ctx.moveTo(l, py[2]); ctx.lineTo(r, py[2]);
                ctx.stroke();
            };
            genes.forEach((g, i) => {
                drawBox(boxesA[i], i - 0.2, BLUE);
                drawBox(boxesB[i], i + 0.2, ORANGE);
            });
        },
        afterDraw(chart) {
            const ctx = chart.ctx, sx = chart.scales.x, sy = chart.scales.y;
            const ox = +chart.canvas.dataset.left, oy = +chart.canvas.dataset.top;
            signif.forEach((s, i) => {
                if (s) put(chart, s, sx.getPixelForValue(i) + ox, sy.getPixelForValue(400) + oy + 3, { size: 18, align: 'center' });
            });
            put(chart, 'geneCluster', 1388, 668, { size: 22.7 });
            [[1531.5, BLUE, 'A', 1574], [1602, ORANGE, 'B', 1645]].forEach(row => {
                const x = row[0] - ox;
                ctx.strokeStyle = row[1];
                ctx.lineWidth = 2;
                ctx.beginPath();
                ctx.moveTo(x + 13.5, 653.6 - oy); ctx.lineTo(x + 13.5, 680 - oy);
                ctx.stroke();
                ctx.fillStyle = '#fff';
                ctx.fillRect(x, 658 - oy, 27, 17.5);
                ctx.strokeRect(x, 658 - oy, 27, 17.5);
                ctx.beginPath();
                ctx.moveTo(x, 666.7 - oy); ctx.lineTo(x + 27, 666.7 - oy);
                ctx.stroke();
                put(chart, row[2], row[3], 667, { size: 22.7 });
            });
        }
    }]
});
</script>
</body>
</html>
